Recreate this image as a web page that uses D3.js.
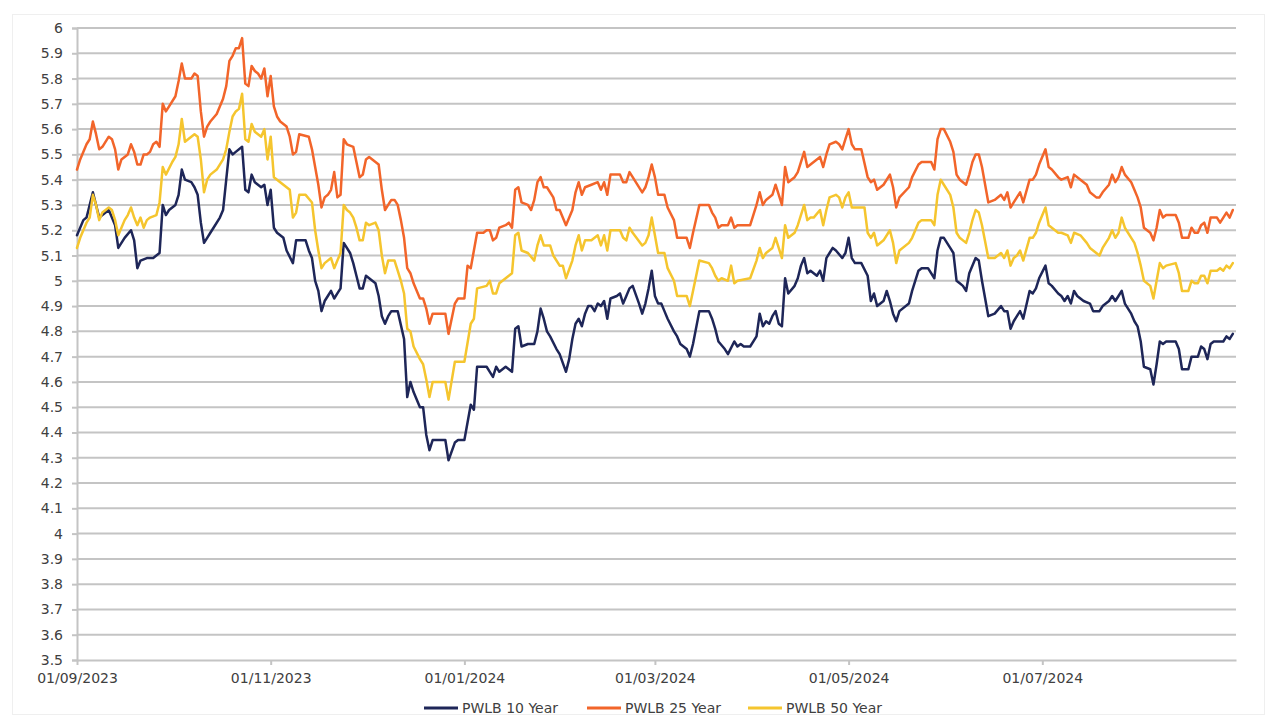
<!DOCTYPE html>
<html>
<head>
<meta charset="utf-8">
<script src="https://cdn.jsdelivr.net/npm/d3@7"></script>
<style>
  html, body { margin: 0; padding: 0; background: #ffffff; }
  svg { display: block; }
  text { font-family: "DejaVu Sans", Verdana, sans-serif; }
</style>
</head>
<body>
<svg id="chart" width="1277" height="722"></svg>
<script>
// ---------------- DATA ----------------
const seriesNames = ["PWLB 10 Year", "PWLB 25 Year", "PWLB 50 Year"];

const yTickLabels = ["3.5","3.6","3.7","3.8","3.9","4","4.1","4.2","4.3","4.4","4.5","4.6","4.7","4.8","4.9","5","5.1","5.2","5.3","5.4","5.5","5.6","5.7","5.8","5.9","6"];
const xTickLabels = ["2023-09-01","2023-11-01","2024-01-01","2024-03-01","2024-05-01","2024-07-01"];

const dates10 = [
 "2023-09-01","2023-09-03","2023-09-04","2023-09-06","2023-09-07","2023-09-08","2023-09-09","2023-09-11","2023-09-12","2023-09-13","2023-09-14","2023-09-15","2023-09-16","2023-09-18","2023-09-19","2023-09-20","2023-09-21","2023-09-23","2023-09-25","2023-09-26","2023-09-27","2023-09-28","2023-09-29","2023-09-30",
 "2023-10-02","2023-10-03","2023-10-04","2023-10-05","2023-10-07","2023-10-08","2023-10-09","2023-10-10","2023-10-11","2023-10-12","2023-10-13","2023-10-14","2023-10-16","2023-10-17","2023-10-18","2023-10-19","2023-10-20","2023-10-21","2023-10-23","2023-10-24","2023-10-25","2023-10-26","2023-10-27","2023-10-29","2023-10-30","2023-10-31",
 "2023-11-01","2023-11-02","2023-11-03","2023-11-05","2023-11-06","2023-11-08","2023-11-09","2023-11-12","2023-11-13","2023-11-14","2023-11-15","2023-11-16","2023-11-17","2023-11-18","2023-11-19","2023-11-20","2023-11-21","2023-11-22","2023-11-23","2023-11-24","2023-11-26","2023-11-27","2023-11-28","2023-11-29","2023-11-30",
 "2023-12-01","2023-12-02","2023-12-04","2023-12-05","2023-12-06","2023-12-07","2023-12-08","2023-12-09","2023-12-11","2023-12-13","2023-12-14","2023-12-15","2023-12-16","2023-12-18","2023-12-19","2023-12-20","2023-12-21","2023-12-22","2023-12-23","2023-12-26","2023-12-27","2023-12-29","2023-12-30",
 "2024-01-01","2024-01-03","2024-01-04","2024-01-05","2024-01-07","2024-01-08","2024-01-09","2024-01-10","2024-01-11","2024-01-12","2024-01-14","2024-01-15","2024-01-16","2024-01-17","2024-01-18","2024-01-19","2024-01-21","2024-01-23","2024-01-24","2024-01-25","2024-01-26","2024-01-27","2024-01-28","2024-01-30","2024-01-31",
 "2024-02-02","2024-02-03","2024-02-04","2024-02-05","2024-02-06","2024-02-07","2024-02-08","2024-02-09","2024-02-10","2024-02-11","2024-02-12","2024-02-13","2024-02-14","2024-02-15","2024-02-16","2024-02-18","2024-02-19","2024-02-20","2024-02-21","2024-02-22","2024-02-23","2024-02-25","2024-02-26","2024-02-27","2024-02-28","2024-02-29",
 "2024-03-01","2024-03-02","2024-03-03","2024-03-04","2024-03-05","2024-03-07","2024-03-08","2024-03-09","2024-03-11","2024-03-12","2024-03-13","2024-03-15","2024-03-18","2024-03-19","2024-03-20","2024-03-21","2024-03-23","2024-03-24","2024-03-26","2024-03-27","2024-03-28","2024-03-29","2024-03-31",
 "2024-04-02","2024-04-03","2024-04-04","2024-04-05","2024-04-06","2024-04-07","2024-04-08","2024-04-09","2024-04-10","2024-04-11","2024-04-12","2024-04-14","2024-04-15","2024-04-16","2024-04-17","2024-04-18","2024-04-19","2024-04-20","2024-04-21","2024-04-22","2024-04-23","2024-04-24","2024-04-25","2024-04-26","2024-04-27","2024-04-29","2024-04-30",
 "2024-05-01","2024-05-02","2024-05-03","2024-05-05","2024-05-07","2024-05-08","2024-05-09","2024-05-10","2024-05-12","2024-05-13","2024-05-14","2024-05-15","2024-05-16","2024-05-17","2024-05-20","2024-05-21","2024-05-23","2024-05-24","2024-05-26","2024-05-28","2024-05-29","2024-05-30","2024-05-31",
 "2024-06-02","2024-06-03","2024-06-04","2024-06-05","2024-06-06","2024-06-07","2024-06-08","2024-06-10","2024-06-11","2024-06-12","2024-06-14","2024-06-16","2024-06-18","2024-06-19","2024-06-20","2024-06-21","2024-06-22","2024-06-23","2024-06-24","2024-06-25","2024-06-27","2024-06-28","2024-06-29","2024-06-30",
 "2024-07-02","2024-07-03","2024-07-04","2024-07-06","2024-07-07","2024-07-08","2024-07-09","2024-07-10","2024-07-11","2024-07-12","2024-07-14","2024-07-16","2024-07-17","2024-07-19","2024-07-20","2024-07-22","2024-07-23","2024-07-24","2024-07-25","2024-07-26","2024-07-27","2024-07-29","2024-07-30","2024-07-31",
 "2024-08-01","2024-08-02","2024-08-04","2024-08-05","2024-08-06","2024-08-07","2024-08-08","2024-08-09","2024-08-12","2024-08-13","2024-08-14","2024-08-16","2024-08-17","2024-08-19","2024-08-20","2024-08-21","2024-08-22","2024-08-23","2024-08-24","2024-08-27","2024-08-28","2024-08-29","2024-08-30"
];
const rate10 = [
 5.18,5.24,5.25,5.35,5.30,5.25,5.26,5.28,5.25,5.22,5.13,5.15,5.17,5.20,5.16,5.05,5.08,5.09,5.09,5.10,5.11,5.30,5.26,5.28,
 5.30,5.34,5.44,5.40,5.39,5.37,5.34,5.23,5.15,5.17,5.19,5.21,5.25,5.28,5.40,5.52,5.50,5.51,5.53,5.36,5.35,5.42,5.39,5.37,5.38,5.30,
 5.36,5.21,5.19,5.17,5.12,5.07,5.16,5.16,5.12,5.09,5.00,4.96,4.88,4.92,4.94,4.96,4.93,4.95,4.97,5.15,5.11,5.07,5.02,4.97,4.97,
 5.02,5.01,4.99,4.94,4.86,4.83,4.86,4.88,4.88,4.77,4.54,4.60,4.56,4.50,4.50,4.39,4.33,4.37,4.37,4.37,4.29,4.36,4.37,
 4.37,4.51,4.49,4.66,4.66,4.66,4.64,4.62,4.66,4.64,4.66,4.65,4.64,4.81,4.82,4.74,4.75,4.75,4.80,4.89,4.85,4.80,4.78,4.73,4.71,
 4.64,4.69,4.77,4.83,4.85,4.82,4.87,4.90,4.90,4.88,4.91,4.90,4.92,4.85,4.93,4.94,4.95,4.91,4.94,4.97,4.98,4.91,4.87,4.91,4.97,5.04,
 4.94,4.91,4.91,4.88,4.85,4.80,4.78,4.75,4.73,4.70,4.75,4.88,4.88,4.85,4.81,4.76,4.73,4.71,4.76,4.74,4.75,4.74,4.74,
 4.78,4.87,4.82,4.84,4.83,4.86,4.88,4.83,4.82,5.01,4.95,4.98,5.01,5.06,5.09,5.03,5.04,5.03,5.02,5.04,5.00,5.09,5.11,5.13,5.12,5.09,5.11,
 5.17,5.09,5.07,5.07,5.02,4.92,4.95,4.90,4.92,4.96,4.92,4.87,4.84,4.88,4.91,4.96,5.04,5.05,5.05,5.01,5.12,5.17,5.17,
 5.13,5.11,5.00,4.99,4.98,4.96,5.03,5.09,5.08,5.00,4.86,4.87,4.90,4.88,4.88,4.81,4.84,4.86,4.88,4.85,4.96,4.95,4.97,5.01,
 5.06,4.99,4.98,4.95,4.94,4.92,4.94,4.91,4.96,4.94,4.92,4.91,4.88,4.88,4.90,4.92,4.94,4.92,4.94,4.96,4.91,4.87,4.84,4.82,
 4.76,4.66,4.65,4.59,4.67,4.76,4.75,4.76,4.76,4.73,4.65,4.65,4.70,4.70,4.74,4.73,4.69,4.75,4.76,4.76,4.78,4.77,4.79
];

const dates25 = [
 "2023-09-01","2023-09-02","2023-09-04","2023-09-05","2023-09-06","2023-09-07","2023-09-08","2023-09-09","2023-09-11","2023-09-12","2023-09-13","2023-09-14","2023-09-15","2023-09-17","2023-09-18","2023-09-19","2023-09-20","2023-09-21","2023-09-22","2023-09-23","2023-09-24","2023-09-25","2023-09-26","2023-09-27","2023-09-28","2023-09-29","2023-09-30",
 "2023-10-02","2023-10-03","2023-10-04","2023-10-05","2023-10-07","2023-10-08","2023-10-09","2023-10-10","2023-10-11","2023-10-12","2023-10-13","2023-10-15","2023-10-17","2023-10-18","2023-10-19","2023-10-20","2023-10-21","2023-10-22","2023-10-23","2023-10-24","2023-10-25","2023-10-26","2023-10-27","2023-10-28","2023-10-29","2023-10-30","2023-10-31",
 "2023-11-01","2023-11-02","2023-11-03","2023-11-04","2023-11-06","2023-11-07","2023-11-08","2023-11-09","2023-11-10","2023-11-13","2023-11-14","2023-11-15","2023-11-16","2023-11-17","2023-11-18","2023-11-19","2023-11-20","2023-11-21","2023-11-22","2023-11-23","2023-11-24","2023-11-25","2023-11-27","2023-11-28","2023-11-29","2023-11-30",
 "2023-12-01","2023-12-02","2023-12-04","2023-12-05","2023-12-06","2023-12-07","2023-12-08","2023-12-09","2023-12-10","2023-12-11","2023-12-12","2023-12-13","2023-12-14","2023-12-15","2023-12-16","2023-12-18","2023-12-19","2023-12-20","2023-12-21","2023-12-22","2023-12-26","2023-12-27","2023-12-29","2023-12-30",
 "2024-01-01","2024-01-02","2024-01-03","2024-01-05","2024-01-07","2024-01-08","2024-01-09","2024-01-10","2024-01-11","2024-01-12","2024-01-14","2024-01-15","2024-01-16","2024-01-17","2024-01-18","2024-01-19","2024-01-21","2024-01-22","2024-01-23","2024-01-24","2024-01-25","2024-01-26","2024-01-27","2024-01-29","2024-01-30","2024-01-31",
 "2024-02-02","2024-02-04","2024-02-05","2024-02-06","2024-02-07","2024-02-08","2024-02-10","2024-02-12","2024-02-13","2024-02-14","2024-02-15","2024-02-16","2024-02-19","2024-02-20","2024-02-21","2024-02-22","2024-02-23","2024-02-26","2024-02-27","2024-02-28","2024-02-29",
 "2024-03-01","2024-03-02","2024-03-03","2024-03-04","2024-03-05","2024-03-07","2024-03-08","2024-03-09","2024-03-11","2024-03-12","2024-03-13","2024-03-15","2024-03-18","2024-03-19","2024-03-20","2024-03-21","2024-03-22","2024-03-24","2024-03-25","2024-03-26","2024-03-27","2024-03-31",
 "2024-04-02","2024-04-03","2024-04-04","2024-04-05","2024-04-07","2024-04-08","2024-04-10","2024-04-11","2024-04-12","2024-04-14","2024-04-15","2024-04-17","2024-04-18","2024-04-19","2024-04-20","2024-04-22","2024-04-23","2024-04-24","2024-04-25","2024-04-27","2024-04-28","2024-04-29","2024-04-30",
 "2024-05-01","2024-05-02","2024-05-03","2024-05-05","2024-05-07","2024-05-08","2024-05-09","2024-05-10","2024-05-12","2024-05-14","2024-05-15","2024-05-16","2024-05-17","2024-05-20","2024-05-21","2024-05-23","2024-05-24","2024-05-26","2024-05-27","2024-05-28","2024-05-29","2024-05-30","2024-05-31",
 "2024-06-02","2024-06-03","2024-06-04","2024-06-05","2024-06-07","2024-06-08","2024-06-09","2024-06-10","2024-06-11","2024-06-12","2024-06-14","2024-06-16","2024-06-18","2024-06-19","2024-06-20","2024-06-21","2024-06-22","2024-06-23","2024-06-24","2024-06-25","2024-06-27","2024-06-28","2024-06-29","2024-06-30",
 "2024-07-02","2024-07-03","2024-07-04","2024-07-06","2024-07-07","2024-07-09","2024-07-10","2024-07-11","2024-07-13","2024-07-15","2024-07-16","2024-07-18","2024-07-19","2024-07-20","2024-07-22","2024-07-23","2024-07-24","2024-07-25","2024-07-26","2024-07-27","2024-07-29","2024-07-30","2024-07-31",
 "2024-08-01","2024-08-02","2024-08-04","2024-08-05","2024-08-06","2024-08-07","2024-08-08","2024-08-09","2024-08-12","2024-08-13","2024-08-14","2024-08-16","2024-08-17","2024-08-18","2024-08-19","2024-08-20","2024-08-21","2024-08-22","2024-08-23","2024-08-25","2024-08-26","2024-08-27","2024-08-28","2024-08-29","2024-08-30"
];
const rate25 = [
 5.44,5.48,5.54,5.56,5.63,5.58,5.52,5.53,5.57,5.56,5.52,5.44,5.48,5.50,5.54,5.51,5.46,5.46,5.50,5.50,5.51,5.54,5.55,5.53,5.70,5.67,5.69,
 5.73,5.79,5.86,5.80,5.80,5.82,5.81,5.67,5.57,5.61,5.63,5.66,5.72,5.77,5.87,5.89,5.92,5.92,5.96,5.78,5.77,5.85,5.83,5.82,5.80,5.84,5.73,
 5.81,5.69,5.65,5.63,5.61,5.57,5.50,5.51,5.58,5.57,5.52,5.45,5.38,5.29,5.33,5.34,5.36,5.43,5.33,5.34,5.56,5.54,5.53,5.47,5.41,5.42,
 5.48,5.49,5.47,5.46,5.36,5.28,5.30,5.32,5.32,5.30,5.24,5.17,5.05,5.03,4.99,4.93,4.93,4.89,4.83,4.87,4.87,4.79,4.91,4.93,
 4.93,5.06,5.05,5.19,5.19,5.20,5.20,5.16,5.17,5.21,5.22,5.23,5.21,5.36,5.37,5.31,5.30,5.28,5.32,5.39,5.41,5.37,5.37,5.33,5.28,5.28,
 5.22,5.28,5.35,5.39,5.34,5.37,5.38,5.39,5.36,5.39,5.34,5.42,5.42,5.39,5.39,5.43,5.41,5.35,5.37,5.41,5.46,
 5.41,5.34,5.34,5.34,5.29,5.24,5.17,5.17,5.17,5.13,5.19,5.30,5.30,5.27,5.25,5.21,5.22,5.22,5.25,5.21,5.22,5.22,
 5.30,5.35,5.30,5.32,5.34,5.38,5.30,5.45,5.39,5.41,5.43,5.51,5.45,5.46,5.47,5.49,5.45,5.50,5.54,5.55,5.54,5.52,5.56,
 5.60,5.54,5.52,5.52,5.41,5.39,5.40,5.36,5.38,5.42,5.37,5.29,5.33,5.37,5.41,5.46,5.47,5.47,5.47,5.44,5.56,5.60,5.60,
 5.55,5.51,5.42,5.40,5.38,5.42,5.47,5.50,5.50,5.45,5.31,5.32,5.34,5.32,5.35,5.29,5.31,5.33,5.35,5.31,5.40,5.40,5.42,5.46,
 5.52,5.45,5.44,5.41,5.40,5.41,5.37,5.42,5.40,5.38,5.35,5.33,5.33,5.35,5.38,5.42,5.39,5.41,5.45,5.42,5.39,5.36,5.33,
 5.29,5.21,5.19,5.16,5.21,5.28,5.25,5.26,5.26,5.23,5.17,5.17,5.21,5.19,5.19,5.22,5.23,5.19,5.25,5.25,5.23,5.25,5.27,5.25,5.28
];

const dates50 = [
 "2023-09-01","2023-09-02","2023-09-04","2023-09-05","2023-09-06","2023-09-07","2023-09-08","2023-09-09","2023-09-11","2023-09-12","2023-09-13","2023-09-14","2023-09-16","2023-09-17","2023-09-18","2023-09-19","2023-09-20","2023-09-21","2023-09-22","2023-09-23","2023-09-24","2023-09-26","2023-09-27","2023-09-28","2023-09-29",
 "2023-10-01","2023-10-02","2023-10-03","2023-10-04","2023-10-05","2023-10-07","2023-10-08","2023-10-09","2023-10-10","2023-10-11","2023-10-12","2023-10-13","2023-10-15","2023-10-17","2023-10-18","2023-10-19","2023-10-20","2023-10-21","2023-10-22","2023-10-23","2023-10-24","2023-10-25","2023-10-26","2023-10-27","2023-10-29","2023-10-30","2023-10-31",
 "2023-11-01","2023-11-02","2023-11-03","2023-11-05","2023-11-07","2023-11-08","2023-11-09","2023-11-10","2023-11-12","2023-11-14","2023-11-15","2023-11-16","2023-11-17","2023-11-18","2023-11-20","2023-11-21","2023-11-22","2023-11-23","2023-11-24","2023-11-25","2023-11-26","2023-11-27","2023-11-28","2023-11-29","2023-11-30",
 "2023-12-01","2023-12-02","2023-12-04","2023-12-05","2023-12-06","2023-12-07","2023-12-08","2023-12-10","2023-12-11","2023-12-12","2023-12-13","2023-12-14","2023-12-15","2023-12-16","2023-12-18","2023-12-19","2023-12-20","2023-12-21","2023-12-22","2023-12-26","2023-12-27","2023-12-29","2023-12-30",
 "2024-01-01","2024-01-03","2024-01-04","2024-01-05","2024-01-08","2024-01-09","2024-01-10","2024-01-11","2024-01-12","2024-01-14","2024-01-15","2024-01-16","2024-01-17","2024-01-18","2024-01-19","2024-01-21","2024-01-23","2024-01-24","2024-01-25","2024-01-26","2024-01-28","2024-01-29","2024-01-31",
 "2024-02-01","2024-02-02","2024-02-04","2024-02-05","2024-02-06","2024-02-07","2024-02-08","2024-02-10","2024-02-12","2024-02-13","2024-02-14","2024-02-15","2024-02-16","2024-02-19","2024-02-20","2024-02-21","2024-02-22","2024-02-23","2024-02-26","2024-02-27","2024-02-28","2024-02-29",
 "2024-03-01","2024-03-02","2024-03-04","2024-03-05","2024-03-07","2024-03-08","2024-03-09","2024-03-11","2024-03-12","2024-03-13","2024-03-15","2024-03-18","2024-03-19","2024-03-20","2024-03-21","2024-03-22","2024-03-24","2024-03-25","2024-03-26","2024-03-27","2024-03-31",
 "2024-04-02","2024-04-03","2024-04-04","2024-04-05","2024-04-07","2024-04-08","2024-04-10","2024-04-11","2024-04-12","2024-04-14","2024-04-15","2024-04-17","2024-04-18","2024-04-19","2024-04-20","2024-04-22","2024-04-23","2024-04-24","2024-04-25","2024-04-27","2024-04-28","2024-04-29","2024-04-30",
 "2024-05-01","2024-05-02","2024-05-03","2024-05-06","2024-05-07","2024-05-08","2024-05-09","2024-05-10","2024-05-12","2024-05-14","2024-05-15","2024-05-16","2024-05-17","2024-05-20","2024-05-21","2024-05-23","2024-05-24","2024-05-27","2024-05-28","2024-05-29","2024-05-30","2024-05-31",
 "2024-06-02","2024-06-03","2024-06-04","2024-06-05","2024-06-07","2024-06-08","2024-06-09","2024-06-10","2024-06-11","2024-06-12","2024-06-14","2024-06-16","2024-06-18","2024-06-19","2024-06-20","2024-06-21","2024-06-22","2024-06-23","2024-06-24","2024-06-25","2024-06-27","2024-06-28","2024-06-29","2024-06-30",
 "2024-07-02","2024-07-03","2024-07-04","2024-07-06","2024-07-07","2024-07-09","2024-07-10","2024-07-11","2024-07-13","2024-07-15","2024-07-16","2024-07-18","2024-07-19","2024-07-20","2024-07-22","2024-07-23","2024-07-24","2024-07-25","2024-07-26","2024-07-27","2024-07-29","2024-07-30","2024-07-31",
 "2024-08-01","2024-08-02","2024-08-04","2024-08-05","2024-08-06","2024-08-07","2024-08-08","2024-08-09","2024-08-12","2024-08-13","2024-08-14","2024-08-16","2024-08-17","2024-08-18","2024-08-19","2024-08-20","2024-08-21","2024-08-22","2024-08-23","2024-08-25","2024-08-26","2024-08-27","2024-08-28","2024-08-29","2024-08-30"
];
const rate50 = [
 5.13,5.17,5.23,5.25,5.34,5.30,5.24,5.27,5.29,5.28,5.24,5.18,5.24,5.26,5.29,5.25,5.22,5.25,5.21,5.24,5.25,5.26,5.31,5.45,5.42,
 5.47,5.49,5.54,5.64,5.55,5.57,5.58,5.57,5.48,5.35,5.40,5.42,5.44,5.48,5.52,5.59,5.65,5.67,5.68,5.74,5.56,5.55,5.62,5.59,5.57,5.60,5.48,
 5.57,5.41,5.40,5.38,5.36,5.25,5.27,5.34,5.34,5.31,5.20,5.12,5.05,5.07,5.09,5.05,5.08,5.11,5.30,5.28,5.27,5.25,5.21,5.16,5.16,
 5.23,5.22,5.23,5.20,5.10,5.03,5.08,5.08,5.04,5.00,4.95,4.81,4.80,4.74,4.69,4.67,4.61,4.54,4.60,4.60,4.53,4.68,4.68,
 4.68,4.83,4.85,4.97,4.98,5.00,4.95,4.95,4.99,5.01,5.02,5.03,5.18,5.19,5.12,5.11,5.08,5.14,5.18,5.14,5.14,5.10,5.06,
 5.06,5.01,5.08,5.14,5.18,5.12,5.16,5.16,5.18,5.14,5.18,5.12,5.20,5.20,5.17,5.16,5.21,5.19,5.14,5.15,5.18,5.25,
 5.18,5.11,5.11,5.05,5.00,4.94,4.94,4.94,4.90,4.96,5.08,5.07,5.05,5.02,5.00,5.01,5.00,5.06,4.99,5.00,5.01,
 5.08,5.13,5.09,5.11,5.13,5.17,5.09,5.22,5.17,5.19,5.22,5.30,5.24,5.25,5.25,5.28,5.22,5.28,5.33,5.34,5.33,5.29,5.33,
 5.35,5.29,5.29,5.29,5.19,5.17,5.19,5.14,5.16,5.20,5.15,5.07,5.12,5.15,5.17,5.23,5.24,5.24,5.22,5.34,5.40,5.38,
 5.34,5.29,5.19,5.17,5.15,5.19,5.24,5.28,5.27,5.22,5.09,5.09,5.11,5.09,5.12,5.06,5.09,5.10,5.12,5.08,5.17,5.17,5.19,5.23,
 5.29,5.22,5.21,5.19,5.19,5.18,5.15,5.19,5.18,5.15,5.13,5.11,5.10,5.13,5.17,5.20,5.17,5.19,5.25,5.21,5.17,5.15,5.11,
 5.06,5.00,4.98,4.93,5.00,5.07,5.05,5.06,5.07,5.03,4.96,4.96,5.00,4.99,4.99,5.02,5.02,4.99,5.04,5.04,5.05,5.04,5.06,5.05,5.07
];

const seriesColors = ["#1e2658", "#f2652a", "#f5c52e"];

// ---------------- CHART ----------------
const W = 1277, H = 722;
const svg = d3.select("#chart");
const parse = d3.timeParse("%Y-%m-%d");

svg.append("rect").attr("x", 0).attr("y", 0).attr("width", W).attr("height", H).attr("fill", "#ffffff");
svg.append("rect").attr("x", 12.5).attr("y", 14.5).attr("width", 1252).attr("height", 700)
  .attr("fill", "none").attr("stroke", "#efefef").attr("stroke-width", 1);

const x = d3.scaleTime()
  .domain([parse("2023-09-01"), parse("2024-08-31")])
  .range([77, 1236]);
const y = d3.scaleLinear().domain([3.5, 6]).range([660, 28]);

const gridColor = "#c4c4c4";
const labelColor = "#404040";

// horizontal gridlines
const yVals = yTickLabels.map(Number);
svg.append("g").selectAll("line")
  .data(yVals.filter(v => v > 3.5))
  .join("line")
  .attr("x1", x.range()[0]).attr("x2", x.range()[1])
  .attr("y1", d => y(d)).attr("y2", d => y(d))
  .attr("stroke", gridColor).attr("stroke-width", 2);

// y axis
const yAxis = d3.axisLeft(y)
  .tickValues(yVals)
  .tickFormat((d, i) => yTickLabels[i])
  .tickSize(5).tickPadding(9);
const gy = svg.append("g").attr("transform", `translate(${x.range()[0]},0)`).call(yAxis);
gy.select(".domain").attr("stroke", gridColor).attr("stroke-width", 2);
gy.selectAll(".tick line").attr("stroke", gridColor).attr("stroke-width", 2);
gy.selectAll("text").attr("font-size", 14).attr("fill", labelColor)
  .attr("font-family", "'DejaVu Sans', Verdana, sans-serif");

// x axis
const xAxis = d3.axisBottom(x)
  .tickValues(xTickLabels.map(parse))
  .tickFormat(d3.timeFormat("%d/%m/%Y"))
  .tickSizeInner(5).tickSizeOuter(0).tickPadding(8);
const gx = svg.append("g").attr("transform", `translate(0,${y(3.5)})`).call(xAxis);
gx.select(".domain").attr("stroke", gridColor).attr("stroke-width", 2);
gx.selectAll(".tick line").attr("stroke", gridColor).attr("stroke-width", 2);
gx.selectAll("text").attr("font-size", 14).attr("fill", labelColor)
  .attr("font-family", "'DejaVu Sans', Verdana, sans-serif");

// series
const series = [
  { name: seriesNames[0], dates: dates10, values: rate10, color: seriesColors[0] },
  { name: seriesNames[1], dates: dates25, values: rate25, color: seriesColors[1] },
  { name: seriesNames[2], dates: dates50, values: rate50, color: seriesColors[2] }
];
series.forEach(s => {
  if (s.dates.length !== s.values.length) console.error(s.name, s.dates.length, s.values.length);
  s.points = s.dates.map((d, i) => ({ date: parse(d), value: s.values[i] }));
});

const line = d3.line().x(d => x(d.date)).y(d => y(d.value));
svg.append("g").selectAll("path")
  .data(series)
  .join("path")
  .attr("d", d => line(d.points))
  .attr("fill", "none")
  .attr("stroke", d => d.color)
  .attr("stroke-width", 2.5)
  .attr("stroke-linejoin", "round")
  .attr("stroke-linecap", "round");

// legend
const legendX = [424, 587, 748];
const legend = svg.append("g").selectAll("g")
  .data(series)
  .join("g")
  .attr("transform", (d, i) => `translate(${legendX[i]},708)`);
legend.append("line").attr("x1", 0).attr("x2", 34).attr("y1", 0).attr("y2", 0)
  .attr("stroke", d => d.color).attr("stroke-width", 3);
legend.append("text").attr("x", 38).attr("y", 5)
  .attr("font-size", 14).attr("fill", labelColor)
  .text(d => d.name);
</script>
</body>
</html>
